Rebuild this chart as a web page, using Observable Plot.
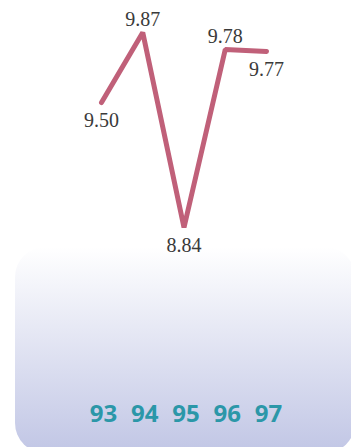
<!DOCTYPE html>
<html>
<head>
<meta charset="utf-8">
<script src="https://cdn.jsdelivr.net/npm/d3@7"></script>
<script src="https://cdn.jsdelivr.net/npm/@observablehq/plot@0.6"></script>
<style>
  html, body { margin: 0; padding: 0; background: #ffffff; }
  #chart svg { display: block; }
</style>
</head>
<body>
<div id="chart"></div>
<script>
const years = [93, 94, 95, 96, 97];
const values = [9.50, 9.87, 8.84, 9.78, 9.77];
const valueLabels = ["9.50", "9.87", "8.84", "9.78", "9.77"];

const data = years.map((year, i) => {
  const prev = i > 0 ? values[i - 1] : -Infinity;
  const next = i < values.length - 1 ? values[i + 1] : -Infinity;
  return {year, value: values[i], label: valueLabels[i], above: values[i] >= prev && values[i] >= next};
});

const W = 351, H = 447;

const chart = Plot.plot({
  width: W,
  height: H,
  marginLeft: 101,
  marginRight: 85,
  marginTop: 32,
  marginBottom: 42,
  style: {background: "transparent", overflow: "visible"},
  x: {domain: [93, 97], ticks: years, tickFormat: d => String(d)},
  y: {domain: [8.84, 9.87], range: [227, 32], axis: null},
  marks: [
    Plot.axisX({
      anchor: "bottom",
      ticks: years,
      tickSize: 0,
      tickPadding: -1,
      tickFormat: d => String(d),
      fontSize: 24,
      fontWeight: "bold",
      fontFamily: "'Open Sans', sans-serif",
      fill: "#2b97a8",
      dx: 2,
      label: null
    }),
    Plot.line(data, {x: "year", y: "value", stroke: "#c06079", strokeWidth: 5, strokeLinecap: "round", strokeLinejoin: "miter"}),
    Plot.text(data.filter(d => d.above), {x: "year", y: "value", text: "label", dy: -13, fontSize: 20, fontFamily: "'Liberation Serif', serif", fill: "#3a3a3a"}),
    Plot.text(data.filter(d => !d.above), {x: "year", y: "value", text: "label", dy: 18, fontSize: 20, fontFamily: "'Liberation Serif', serif", fill: "#3a3a3a"})
  ]
});

// decorative rounded, gradient panel behind the axis
const svg = d3.select(chart);
const defs = svg.insert("defs", ":first-child");
const grad = defs.append("linearGradient").attr("id", "panelGrad").attr("x1", 0).attr("y1", 0).attr("x2", 0).attr("y2", 1);
grad.append("stop").attr("offset", "0%").attr("stop-color", "#ffffff");
grad.append("stop").attr("offset", "100%").attr("stop-color", "#c1c6e5");
svg.insert("rect", "defs + *")
  .attr("x", 15).attr("y", 247).attr("width", 340).attr("height", 206)
  .attr("rx", 30).attr("ry", 30)
  .attr("fill", "url(#panelGrad)");

document.getElementById("chart").appendChild(chart);
</script>
</body>
</html>
